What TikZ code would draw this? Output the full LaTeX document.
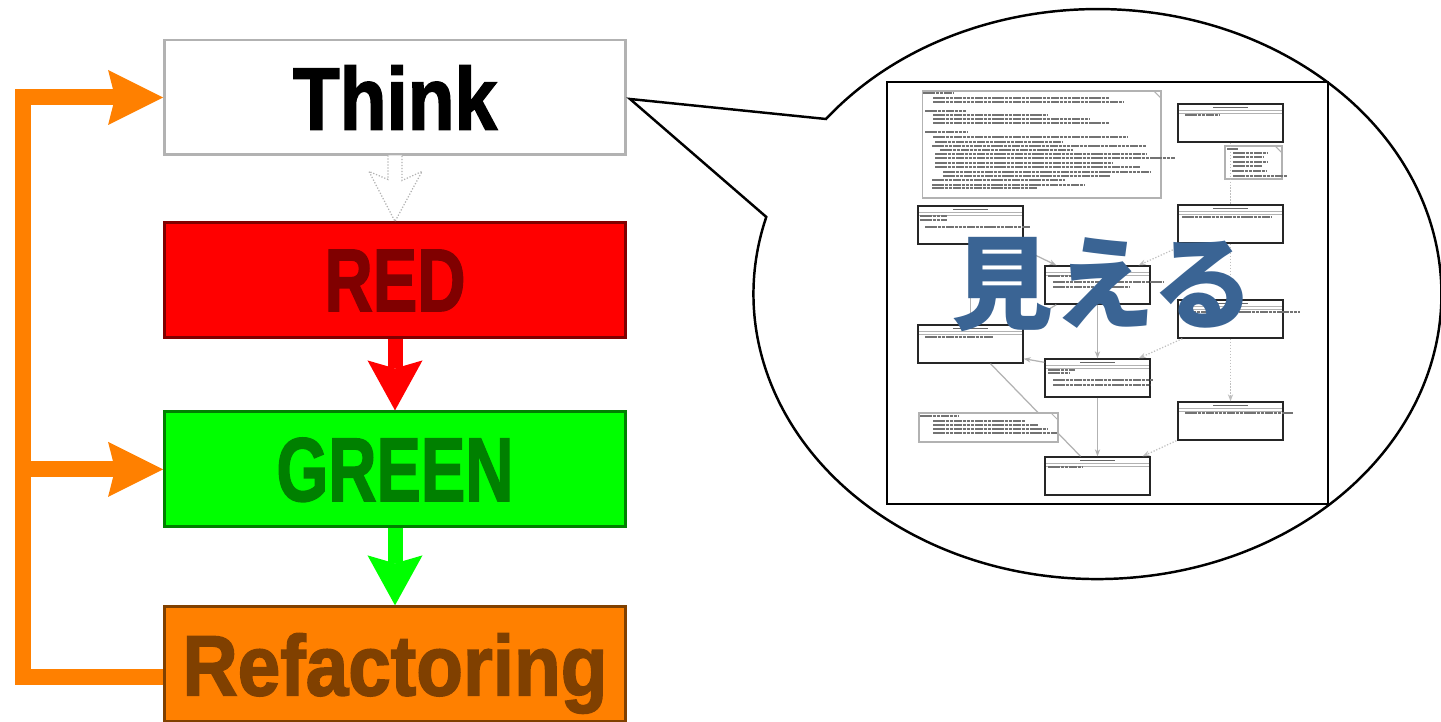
\documentclass[tikz,border=0pt]{standalone}
\usepackage{graphicx}
\usepackage{fontspec}
\setmainfont{Liberation Sans}
\newfontfamily\heavyfont{Liberation Sans Bold}[FakeBold=2]
\newfontfamily\jpfont{Noto Sans CJK JP}
\usetikzlibrary{positioning, arrows.meta, calc}

\definecolor{tddred}{HTML}{FF0000}
\definecolor{tddgreen}{HTML}{00FF00}
\definecolor{tddorange}{HTML}{FF8000}
\definecolor{inkblue}{HTML}{3A6494}

\tikzset{
    x=0.02cm, y=0.02cm, % one unit is one pixel of the layout
    stage/.style={draw, line width=1.7pt, minimum width=9.22cm, minimum height=2.3cm,
        inner sep=0pt, text depth=0pt, font=\heavyfont}, % the four TDD steps
    fatarrow/.style={line width=0.3cm, -{Stealth[length=1cm, width=1.1cm, inset=0.16cm, line width=0pt]}},
    loopline/.style={tddorange, line width=0.32cm, line join=miter,
        -{Stealth[length=1.1cm, width=1.1cm, inset=0.14cm, line width=0pt]}},
    outlinearrow/.style={draw=gray!60, densely dotted, line width=0.7pt, fill=white},
    callout/.style={draw=black, line width=1.4pt, fill=white, line join=miter},
    umlclass/.style={draw=black!85, line width=0.8pt, fill=white, minimum width=2.1cm,
        minimum height=0.76cm, inner sep=0pt,
        path picture={
            \draw[black!30, line width=0.4pt]
                ([yshift=-0.13cm]path picture bounding box.north west) -- ([yshift=-0.13cm]path picture bounding box.north east)
                ([yshift=-0.19cm]path picture bounding box.north west) -- ([yshift=-0.19cm]path picture bounding box.north east);
            \draw[black!60, line width=1pt]
                ([xshift=-0.35cm,yshift=-0.07cm]path picture bounding box.north) -- ([xshift=0.35cm,yshift=-0.07cm]path picture bounding box.north);
        }},
    umlnote/.style={draw=black!30, line width=0.6pt, fill=white, inner sep=0pt,
        path picture={
            \draw[black!30, line width=0.6pt]
                ([xshift=-0.14cm]path picture bounding box.north east) -- ([yshift=-0.14cm]path picture bounding box.north east);
        }},
    textline/.style={black!55, line width=0.9pt, dash pattern=on 2pt off 0.4pt},
    link/.style={black!30, line width=0.7pt},
    deplink/.style={black!25, line width=0.7pt, densely dotted},
}

\begin{document}
\begin{tikzpicture}
\useasboundingbox (0,0) rectangle (1441,-722);

% the TDD cycle
\node[stage, draw=gray!60, fill=white] (think) at (395,-97.5) {\resizebox{4.08cm}{1.28cm}{Think}};
\node[stage, draw=red!50!black, fill=tddred, text=red!50!black, below=1.3cm of think] (red)
    {\resizebox{2.82cm}{1.22cm}{RED}};
\node[stage, draw=green!50!black, fill=tddgreen, text=green!50!black, below=1.42cm of red] (green)
    {\resizebox{4.74cm}{1.26cm}{GREEN}};
\node[stage, draw=orange!50!black, fill=tddorange, text=orange!50!black, below=1.54cm of green] (refac)
    {\resizebox{8.5cm}{1.24cm}{Refactoring}};

\draw[outlinearrow] ($(think.south)+(-7,1)$) -- ++(0,-24) -- ($(think.south)+(-26,-15)$) -- (red.north)
    -- ($(think.south)+(27,-15)$) -- ($(think.south)+(7,-24)$) -- ++(0,25);
\draw[fatarrow, tddred] (red.south) -- (green.north);
\draw[fatarrow, tddgreen] (green.south) -- (refac.north);

% back to Think
\coordinate (rail) at (23,-97.5);
\draw[loopline] ([yshift=-0.26cm]refac.west) -| (rail) -- (think.west);
\draw[loopline] (rail |- green.west) -- (green.west);

% speech bubble
\coordinate (tip) at (630,-99);
\draw[callout] (tip) -- (826,-119)
    arc[start angle=142.1, end angle=-195.7, x radius=344, y radius=285] -- cycle;
\draw[line width=1.6pt] (887,-82) rectangle (1328,-504);

% class diagram inside the bubble
\node[umlnote, minimum width=4.78cm, minimum height=2.14cm] (n1) at (1041.5,-144.5) {};
\node[umlnote, minimum width=1.14cm, minimum height=0.66cm] (n2) at (1253.5,-162.5) {};
\foreach \n/\x/\y in {c1/1230.5/123, c2/1230.5/224, c3/970.5/225, c4/1097.5/285, c5/1230.5/319,
                      c6/970.5/344, c7/1097.5/378, c8/1230.5/421, c9/1097.5/476}
    \node[umlclass] (\n) at (\x,-\y) {};

\draw[deplink] (c1.south) -- (c2.north);
\draw[deplink] (c2.south) -- (c5.north);
\draw[deplink, -{Stealth[length=4pt]}] (c5.south) -- (c8.north);
\draw[link] (c3.south) -- (c6.north);
\draw[link, -{Stealth[length=4pt]}] ([xshift=-0.2cm]c3.south east) -- ([xshift=0.24cm]c4.north west);
\draw[deplink, -{Stealth[length=4pt]}] ([xshift=0.18cm]c2.south west) -- ([xshift=-0.24cm]c4.north east);
\draw[link, -{Stealth[length=4pt]}] (c4.south) -- (c7.north);
\draw[link] ([xshift=0.24cm]c4.south west) -- (c6.north east);
\draw[deplink, -{Stealth[length=4pt]}] ([xshift=0.1cm]c5.south west) -- ([xshift=-0.24cm]c7.north east);
\draw[link, -{Stealth[length=4pt]}] ([yshift=-0.08cm]c7.north west) -- ([yshift=0.1cm]c6.south east);
\draw[link, -{Stealth[length=4pt]}] (c7.south) -- (c9.north);
\draw[deplink, -{Stealth[length=4pt]}] ([xshift=-0.02cm]c8.south west) -- ([xshift=-0.16cm]c9.north east);
\draw[link] ([xshift=0.4cm]c6.south) -- ([xshift=-0.34cm]c9.north);
\node[umlnote, minimum width=2.78cm, minimum height=0.58cm] (n3) at (988.5,-427.5) {};

% unreadable small print
\foreach \y/\a/\b in {93/923/953, 98/933/1110, 102/933/1123, 111/925/967, 115/933/1048, 119/933/1090,
        123/933/1110, 132/925/968, 137/933/1127, 142/935/1062, 146/932/1147, 150/940/1073,
        154/935/1147, 158/935/1175, 163/935/1113, 167/935/1140, 172/943/1150, 176/943/1110,
        180/932/1065, 185/932/1085, 188/932/1037,
        149/1227/1238, 153/1233/1268, 157/1233/1263, 162/1233/1268, 166/1233/1262, 171/1232/1267, 176/1233/1287,
        416/920/958, 421/933/1025, 425/933/1038, 429/933/1047, 433/933/1057,
        115/1185/1220, 217/1182/1272, 216/920/947, 220/920/947, 227/925/1030,
        276/1048/1082, 282/1053/1163, 287/1053/1130, 312/1180/1300, 337/925/993,
        370/1048/1075, 373/1048/1070, 380/1053/1153, 385/1053/1150, 413/1185/1293, 467/1048/1082}
    \draw[textline] (\a,-\y) -- (\b,-\y);

\node[inkblue, font=\jpfont\bfseries\fontsize{58pt}{58pt}\selectfont] (mieru) at (1103,-285) {見える};
\end{tikzpicture}
\end{document}
